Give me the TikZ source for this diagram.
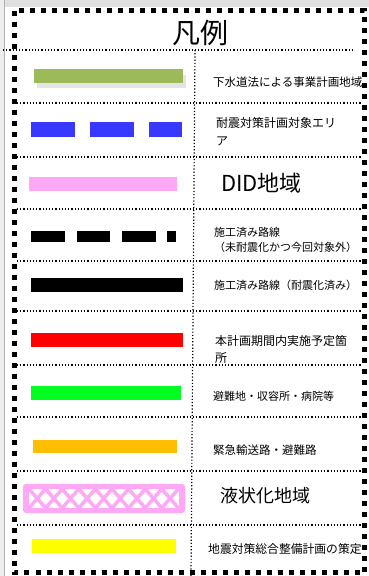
\documentclass[tikz,border=0pt]{standalone}
\usepackage{fontspec}
\setmainfont{Noto Sans CJK JP}
\begin{document}
\begin{tikzpicture}[x=1pt,y=-1pt,
	lbl/.style={anchor=west,inner sep=0pt,font=\fontsize{11.5}{12}\selectfont},
	lbltwo/.style={lbl,align=left},
	rowline/.style={line width=1.2pt,dash pattern=on 1.2pt off 2pt},
	frame/.style={line width=5pt,dash pattern=on 5pt off 6pt}]
	\definecolor{cbg}{rgb}{0.88,0.88,0.88}
	\definecolor{cgreen}{rgb}{0.61,0.73,0.35}
	\definecolor{cblue}{rgb}{0.22,0.22,1.0}
	\definecolor{cpink}{rgb}{1.0,0.66,0.96}
	\definecolor{cred}{rgb}{1.0,0.0,0.0}
	\definecolor{clime}{rgb}{0.0,1.0,0.13}
	\definecolor{corange}{rgb}{1.0,0.75,0.0}
	\definecolor{cyellow}{rgb}{1.0,1.0,0.0}
	%
	\useasboundingbox[fill=white] (0,0) rectangle (369,576);
	\fill[cbg] (0,0) rectangle (369,7);
	\fill[cbg!60] (0,0) rectangle (4,576);
	\draw[gray!60,line width=1pt] (4.5,0) -- (4.5,576);
	%
	% swatches
	\fill[gray!35,opacity=0.6] (37,75) rectangle (186,88);
	\fill[cgreen] (34,69) rectangle (183,83);
	\fill[cblue] (31,122) rectangle (75,137);
	\fill[cblue] (90,122) rectangle (134,137);
	\fill[cblue] (149,122) rectangle (182,137);
	\fill[cpink] (29,177) rectangle (177,191);
	\fill[black] (31,231) rectangle (65,242);
	\fill[black] (77,231) rectangle (110,242);
	\fill[black] (122,231) rectangle (156,242);
	\fill[black] (167,231) rectangle (176,242);
	\fill[black] (31,278) rectangle (183,292);
	\fill[cred] (31,333) rectangle (183,347);
	\fill[clime] (31,386) rectangle (181,400);
	\fill[corange] (33,440) rectangle (177,453);
	\fill[cpink,rounded corners=3pt] (23,484) rectangle (185,513);
	\begin{scope}
		\clip (29,489) rectangle (179,508);
		\fill[white] (29,489) rectangle (179,508);
		\foreach \i in {0,...,8}
			\draw[cpink,line width=3.5pt] (29+\i*16.6,489) -- (45.6+\i*16.6,508)
				(45.6+\i*16.6,489) -- (29+\i*16.6,508);
	\end{scope}
	\fill[cyellow] (32,539) rectangle (176,553);
	%
	% table lines
	\draw[rowline] (3,50) -- (353,50);
	\foreach \y in {103,157,209,261,311,365,417,471,525}
		\draw[rowline] (17,\y) -- (362,\y);
	\draw[rowline] (195,50) -- (191,576);
	%
	% labels
	\node[inner sep=0pt,font=\fontsize{28}{28}\selectfont] (title) at (200,33) {凡例};
	\node[lbl] (t1) at (213,82) {下水道法による事業計画地域};
	\node[lbltwo,font=\fontsize{12}{18}\selectfont] (t2) at (216,132) {耐震対策計画対象エリ\\ア};
	\node[lbl,font=\fontsize{22}{22}\selectfont] (t3) at (221,183) {DID地域};
	\node[lbltwo,font=\fontsize{11}{15}\selectfont] (t4) at (214,240) {施工済み路線\\（未耐震化かつ今回対象外）};
	\node[lbl,font=\fontsize{11}{12}\selectfont] (t5) at (214,285) {施工済み路線（耐震化済み）};
	\node[lbltwo,font=\fontsize{12}{17}\selectfont] (t6) at (215,349) {本計画期間内実施予定箇\\所};
	\node[lbl,font=\fontsize{11}{12}\selectfont] (t7) at (213,396) {避難地・収容所・病院等};
	\node[lbl] (t8) at (213,450) {緊急輸送路・避難路};
	\node[lbl,font=\fontsize{18}{18}\selectfont] (t9) at (220,496) {液状化地域};
	\node[lbl,font=\fontsize{11.8}{12}\selectfont] (t10) at (208,549) {地震対策総合整備計画の策定};
	%
	% outer frame
	\draw[frame] (14.5,10.5) rectangle (364.5,572.5);
	%
\end{tikzpicture}
\end{document}
